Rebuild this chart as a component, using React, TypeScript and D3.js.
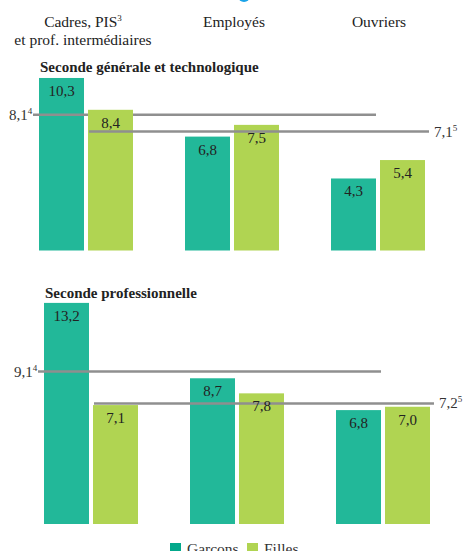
import React from 'react';
import * as d3 from 'd3';

const categories = ['Cadres', 'Employés', 'Ouvriers'];
const series = ['Garcons', 'Filles'];

// Seconde générale et technologique
const sgtGarcons = [10.3, 6.8, 4.3];
const sgtFilles = [8.4, 7.5, 5.4];
const sgtAvg = { garcons: 8.1, filles: 7.1 };

// Seconde professionnelle
const proGarcons = [13.2, 8.7, 6.8];
const proFilles = [7.1, 7.8, 7.0];
const proAvg = { garcons: 9.1, filles: 7.2 };

const fmt = (v: number) => v.toFixed(1).replace('.', ',');

const TEAL = '#22b899';
const GREEN = '#b0d452';
const GREY = '#8f8f8f';
const FONT = '"Liberation Serif", "Times New Roman", serif';

const PX_PER_UNIT = 16.75;
const groupStep = 146;
const groupW = 94;

type PanelProps = {
  title: string;
  garcons: number[];
  filles: number[];
  avg: { garcons: number; filles: number };
  x0: number;
  baseline: number;
  titleY: number;
};

function makeX(x0: number) {
  return d3
    .scaleBand<string>()
    .domain(categories)
    .range([x0, x0 + 2 * groupStep + groupW])
    .paddingInner((groupStep - groupW) / groupStep)
    .paddingOuter(0);
}

const xInner = d3
  .scaleBand<string>()
  .domain(series)
  .range([0, groupW])
  .paddingInner(4 / 49);

const Panel = ({ title, garcons, filles, avg, x0, baseline, titleY }: PanelProps) => {
  const x = makeX(x0);
  const y = d3
    .scaleLinear()
    .domain([0, 10])
    .range([baseline, baseline - 10 * PX_PER_UNIT]);
  const bw = xInner.bandwidth();

  const gLineY = y(avg.garcons);
  const fLineY = y(avg.filles);
  const gx = (c: string) => (x(c) as number) + (xInner('Garcons') as number);
  const fx = (c: string) => (x(c) as number) + (xInner('Filles') as number);
  const last = categories[categories.length - 1];

  return (
    <g>
      <text x={x0 + 1} y={titleY} fontFamily={FONT} fontWeight="bold" fontSize={15} fill="#222">
        {title}
      </text>
      {categories.map((c, i) => (
        <rect key={'g' + c} x={gx(c)} y={y(garcons[i])} width={bw} height={baseline - y(garcons[i])} fill={TEAL} />
      ))}
      <line x1={x0 - 6} x2={gx(last) + bw} y1={gLineY} y2={gLineY} stroke={GREY} strokeWidth={2.5} />
      {categories.map((c, i) => (
        <rect key={'f' + c} x={fx(c)} y={y(filles[i])} width={bw} height={baseline - y(filles[i])} fill={GREEN} />
      ))}
      <line x1={fx(categories[0]) + 1} x2={fx(last) + bw + 4} y1={fLineY} y2={fLineY} stroke={GREY} strokeWidth={2.5} />
      {categories.map((c, i) => (
        <text key={'tg' + c} x={gx(c) + bw / 2} y={y(garcons[i]) + 18} textAnchor="middle" fontFamily={FONT} fontSize={15} fill="#222">
          {fmt(garcons[i])}
        </text>
      ))}
      {categories.map((c, i) => (
        <text key={'tf' + c} x={fx(c) + bw / 2} y={y(filles[i]) + 18} textAnchor="middle" fontFamily={FONT} fontSize={15} fill="#222">
          {fmt(filles[i])}
        </text>
      ))}
      <text x={x0 - 30} y={gLineY + 5} fontFamily={FONT} fontSize={15} fill="#333">
        {fmt(avg.garcons)}
        <tspan fontSize={9} dy={-6}>4</tspan>
      </text>
      <text x={fx(last) + bw + 9} y={fLineY + 5} fontFamily={FONT} fontSize={15} fill="#333">
        {fmt(avg.filles)}
        <tspan fontSize={9} dy={-6}>5</tspan>
      </text>
    </g>
  );
};

export default function App() {
  const xTop = makeX(39);
  const center = (c: string) => (xTop(c) as number) + groupW / 2;
  return (
    <svg width={464} height={551} style={{ position: 'absolute', left: 0, top: 0, background: '#fff' }}>
      <ellipse cx={244} cy={-4} rx={6} ry={6} fill="#1aa3e8" />
      <text x={center('Cadres') - 3} y={27} textAnchor="middle" fontFamily={FONT} fontSize={15.5} fill="#222">
        Cadres, PIS<tspan fontSize={9} dy={-6}>3</tspan>
      </text>
      <text x={center('Cadres') - 3} y={45} textAnchor="middle" fontFamily={FONT} fontSize={15.5} fill="#222">
        et prof. intermédiaires
      </text>
      <text x={center('Employés') + 2} y={27} textAnchor="middle" fontFamily={FONT} fontSize={15.5} fill="#222">
        Employés
      </text>
      <text x={center('Ouvriers') + 1} y={27} textAnchor="middle" fontFamily={FONT} fontSize={15.5} fill="#222">
        Ouvriers
      </text>
      <Panel
        title="Seconde générale et technologique"
        garcons={sgtGarcons}
        filles={sgtFilles}
        avg={sgtAvg}
        x0={39}
        baseline={250.5}
        titleY={72}
      />
      <Panel
        title="Seconde professionnelle"
        garcons={proGarcons}
        filles={proFilles}
        avg={proAvg}
        x0={44}
        baseline={524}
        titleY={298}
      />
      <g>
        <rect x={170} y={543} width={11} height={11} fill="#03a88b" />
        <text x={187} y={554} fontFamily={FONT} fontSize={15.5} fill="#333">{series[0]}</text>
        <rect x={247} y={543} width={11} height={11} fill={GREEN} />
        <text x={264} y={554} fontFamily={FONT} fontSize={15.5} fill="#333">{series[1]}</text>
      </g>
    </svg>
  );
}
